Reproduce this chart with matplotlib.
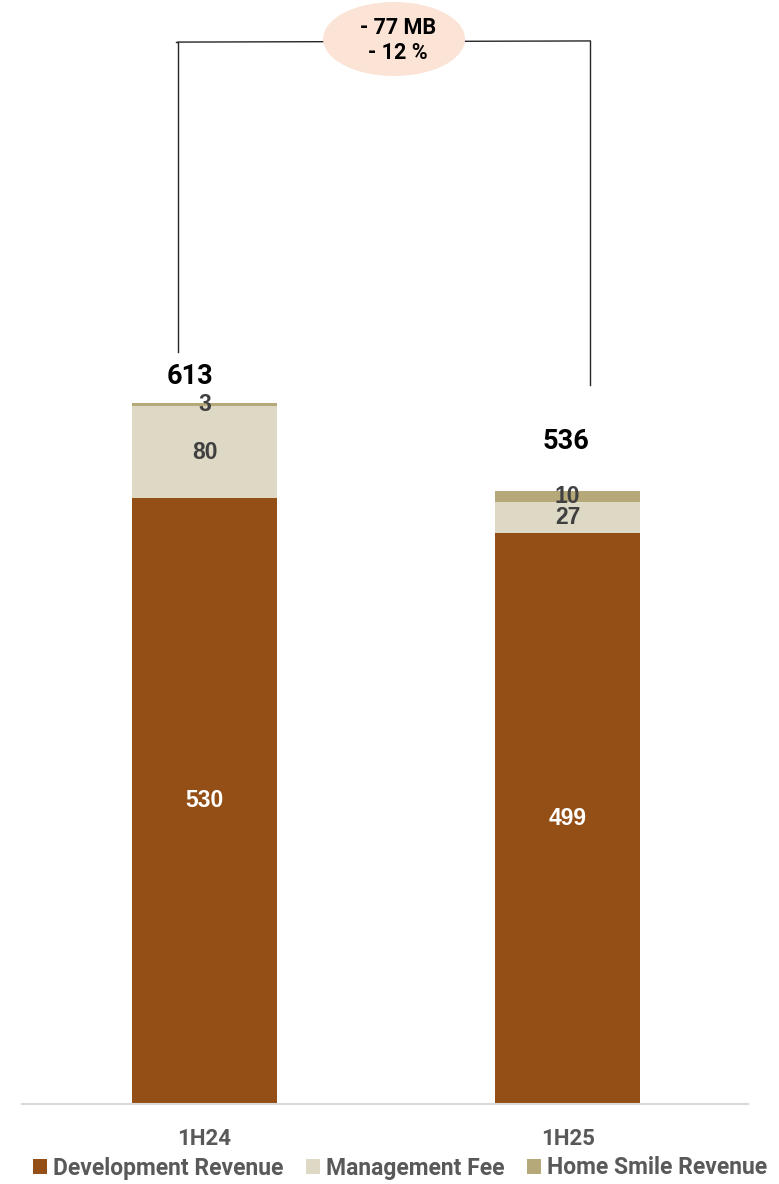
import matplotlib
matplotlib.use("Agg")
import matplotlib.pyplot as plt
from matplotlib.patches import Ellipse, Patch
from matplotlib import font_manager as fm

categories = ["1H24", "1H25"]
dev_revenue = [530, 499]
mgmt_fee = [80, 27]
home_smile = [3, 10]
totals = [613, 536]
series_names = ["Development Revenue", "Management Fee", "Home Smile Revenue"]
change_text = "- 77 MB\n- 12 %"

colors = ["#934F16", "#DDD9C4", "#B5A879"]

names = {f.name for f in fm.fontManager.ttflist}
roboto = "Roboto" if "Roboto" in names else "DejaVu Sans"
arial = "Liberation Sans" if "Liberation Sans" in names else "DejaVu Sans"

W, H = 779, 1184
fig = plt.figure(figsize=(W / 100, H / 100), dpi=100)
ax = fig.add_axes([22 / W, 1 - 1104 / H, 726 / W, 1104 / H])

x = [0, 1]
bw = 0.4
ax.bar(x, dev_revenue, bw, color=colors[0], zorder=2)
ax.bar(x, mgmt_fee, bw, bottom=dev_revenue, color=colors[1], zorder=2)
bottoms3 = [d + m for d, m in zip(dev_revenue, mgmt_fee)]
ax.bar(x, home_smile, bw, bottom=bottoms3, color=colors[2], zorder=2)

ax.set_xlim(-0.503, 1.497)
ax.set_ylim(0, 965.4)

for s in ["top", "right", "left"]:
    ax.spines[s].set_visible(False)
ax.spines["bottom"].set_color("#D9D9D9")
ax.spines["bottom"].set_linewidth(1.5)
ax.set_yticks([])
ax.set_xticks(x)
ax.set_xticklabels(categories, fontsize=16, fontweight="bold", color="#595959", family=roboto)
ax.tick_params(axis="x", length=0, pad=17)

# segment labels
for i in range(2):
    ax.text(x[i], dev_revenue[i] / 2, str(dev_revenue[i]), ha="center", va="center",
            color="white", fontsize=16.5, fontweight="bold", family=arial, zorder=3)
    ax.text(x[i], dev_revenue[i] + mgmt_fee[i] / 2, str(mgmt_fee[i]), ha="center", va="center",
            color="#404040", fontsize=16.5, fontweight="bold", family=arial, zorder=3)
    ax.text(x[i], bottoms3[i] + home_smile[i] / 2, str(home_smile[i]), ha="center", va="center",
            color="#404040", fontsize=16.5, fontweight="bold", family=arial, zorder=3)

# totals
total_offsets = [(-0.04, 23), (-0.003, 43)]
for i in range(2):
    dx, dy = total_offsets[i]
    ax.text(x[i] + dx, totals[i] + dy, str(totals[i]), ha="center", va="center",
            color="black", fontsize=19.5, fontweight="bold", family=roboto, zorder=3)

# bracket
yb = 928.6
ax.plot([-0.08, -0.073, -0.073], [yb, yb, 657.6], color="#262626", lw=1.0, clip_on=False, zorder=1)
ax.plot([-0.073, 1.062], [yb, yb + 1], color="#262626", lw=1.0, clip_on=False, zorder=1)
ax.plot([1.062, 1.062], [yb + 1, 628.7], color="#262626", lw=1.0, clip_on=False, zorder=1)
ell = Ellipse((0.522, 931.3), 0.391, 64.7, facecolor="#FBE3D6", edgecolor="none",
              clip_on=False, zorder=4)
ax.add_patch(ell)
ax.text(0.533, 930.0, change_text, ha="center", va="center", fontsize=15.5,
        fontweight="bold", family=roboto, color="black", linespacing=1.2, zorder=5)

handles = [Patch(facecolor=c, edgecolor="none") for c in colors]
leg = fig.legend(handles, series_names, loc="center", bbox_to_anchor=(400 / W, 1 - 1168 / H),
                 ncol=3, frameon=False, handlelength=0.61, handleheight=0.61,
                 handletextpad=0.26, columnspacing=1.0, borderaxespad=0, borderpad=0,
                 prop={"family": roboto, "weight": "bold", "size": 16.5})
for t in leg.get_texts():
    t.set_color("#595959")

fig.savefig("out.png", dpi=100)
